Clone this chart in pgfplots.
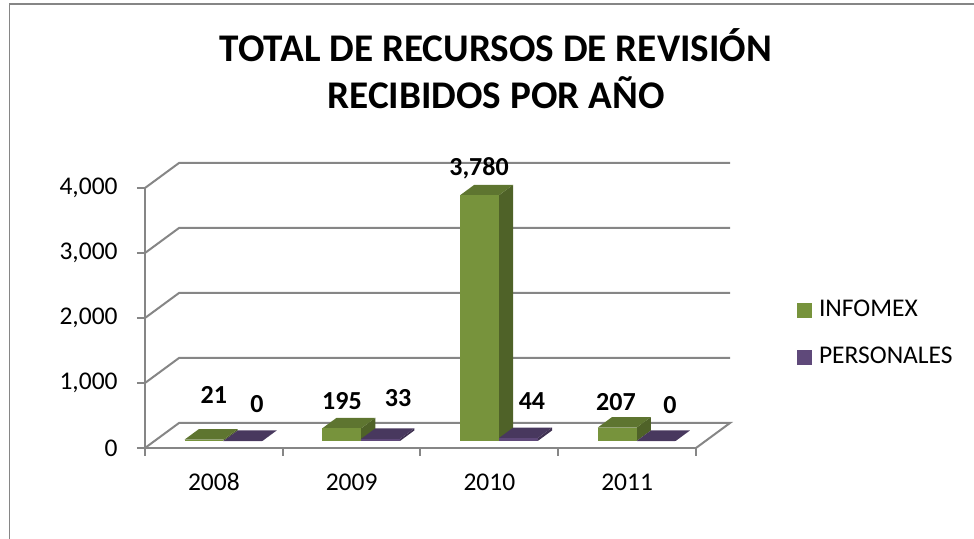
\documentclass[border=0pt]{standalone}
\usepackage{fontspec}
\setmainfont{Carlito}
\usepackage{pgfplots}
\pgfplotsset{compat=1.18}
\definecolor{gridgray}{RGB}{134,134,134}
\definecolor{gfront}{RGB}{119,147,60}
\definecolor{gside}{RGB}{79,98,40}
\definecolor{gtop}{RGB}{94,117,48}
\definecolor{pfront}{RGB}{95,73,122}
\definecolor{pside}{RGB}{63,49,81}
\definecolor{ptop}{RGB}{72,56,94}

% 3-D box for one bar: x0, x1 (front plane), value, colour prefix
\newcommand\prism[4]{%
  \pgfmathsetmacro\Ax{#1+0.0692}\pgfmathsetmacro\Bx{#2+0.0692}%
  \pgfmathsetmacro\Cx{#2+0.1729}\pgfmathsetmacro\Dx{#1+0.1729}%
  \pgfmathsetmacro\Fy{107.8}\pgfmathsetmacro\Fv{#3+107.8}%
  \pgfmathsetmacro\By{269.5}\pgfmathsetmacro\Bv{#3+269.5}%
  \addplot[fill=#4side, draw=none, forget plot] coordinates {(\Bx,\Fy) (\Cx,\By) (\Cx,\Bv) (\Bx,\Fv)};
  \addplot[fill=#4top, draw=none, forget plot] coordinates {(\Ax,\Fv) (\Bx,\Fv) (\Cx,\Bv) (\Dx,\Bv)};
  \addplot[fill=#4front, draw=none, forget plot] coordinates {(\Ax,\Fy) (\Bx,\Fy) (\Bx,\Fv) (\Ax,\Fv)};
}

\begin{document}
\begin{tikzpicture}
\path[use as bounding box] (0,0) rectangle (487pt,269.5pt);
\draw[gridgray, line width=0.75pt] (4.75pt,-1pt) -- (4.75pt,267.6pt) -- (490pt,267.6pt);
\node[anchor=base, font=\fontsize{19.6}{23}\selectfont\bfseries] at (248pt,238.5pt) {TOTAL DE RECURSOS DE REVISIÓN};
\node[anchor=base, font=\fontsize{19.6}{23}\selectfont\bfseries] at (248pt,215pt) {RECIBIDOS POR AÑO};
\begin{axis}[
  at={(72.5pt,45.5pt)}, anchor=south west,
  scale only axis, width=275.5pt, height=130pt,
  xmin=0, xmax=4, ymin=0, ymax=4000,
  enlargelimits=false, clip=false,
  axis x line=bottom, axis y line=left,
  axis line style={-, draw=gridgray, line width=1pt},
  tick align=outside, major tick length=4pt,
  every tick/.style={gridgray, line width=1pt},
  ytick={0,1000,2000,3000,4000},
  /pgf/number format/.cd, 1000 sep={,}, assume math mode=true, /pgfplots/.cd,
  yticklabel style={font=\fontsize{12.75}{15}\selectfont, anchor=east, inner sep=0pt, xshift=-9.5pt},
  xtick={0,1,2,3,4}, xticklabels={},
  extra x ticks={0.5,1.5,2.5,3.5},
  extra x tick labels={2008,2009,2010,2011},
  extra x tick style={major tick length=0pt, xticklabel style={font=\fontsize{12.75}{15}\selectfont, anchor=base, inner sep=0pt, yshift=-21.5pt}},
  legend style={at={(1.183,0.4394)}, anchor=west, draw=none, fill=none, inner sep=0pt,
    font=\fontsize{12.75}{15}\selectfont, row sep=11.5pt, column sep=3.5pt,
    nodes={inner sep=0pt, text height=9pt, text depth=3pt}},
  legend cell align=left,
]
% back wall and floor gridlines
\addplot[gridgray, line width=1pt, forget plot] coordinates {(0,0) (0.247,385) (4.247,385) (4,0)};
\addplot[gridgray, line width=1pt, forget plot] coordinates {(0,1000) (0.247,1385) (4.247,1385)};
\addplot[gridgray, line width=1pt, forget plot] coordinates {(0,2000) (0.247,2385) (4.247,2385)};
\addplot[gridgray, line width=1pt, forget plot] coordinates {(0,3000) (0.247,3385) (4.247,3385)};
\addplot[gridgray, line width=1pt, forget plot] coordinates {(0,4000) (0.247,4385) (4.247,4385)};
% bars: INFOMEX (g) and PERSONALES (p)
\prism{0.218}{0.5}{21}{g}
\prism{0.5}{0.782}{0}{p}
\prism{1.218}{1.5}{195}{g}
\prism{1.5}{1.782}{33}{p}
\prism{2.218}{2.5}{3780}{g}
\prism{2.5}{2.782}{44}{p}
\prism{3.218}{3.5}{207}{g}
\prism{3.5}{3.782}{0}{p}
% data labels
\addplot[draw=none, mark=none, forget plot, nodes near coords, point meta=explicit symbolic,
  every node near coord/.append style={anchor=center, inner sep=0pt, font=\fontsize{13}{15}\selectfont\bfseries, text=black}]
  coordinates {(0.50,815) [21] (0.813,677) [0] (1.430,723) [195] (1.837,769) [33]
               (2.425,4308) [{3,780}] (2.809,723) [44] (3.419,708) [207] (3.811,662) [0]};
\addlegendimage{legend image code/.code={\fill[gfront] (0pt,-3.5pt) rectangle (7pt,3.5pt);}}
\addlegendentry{INFOMEX}
\addlegendimage{legend image code/.code={\fill[pfront] (0pt,-3.5pt) rectangle (7pt,3.5pt);}}
\addlegendentry{PERSONALES}
\end{axis}
\end{tikzpicture}
\end{document}
